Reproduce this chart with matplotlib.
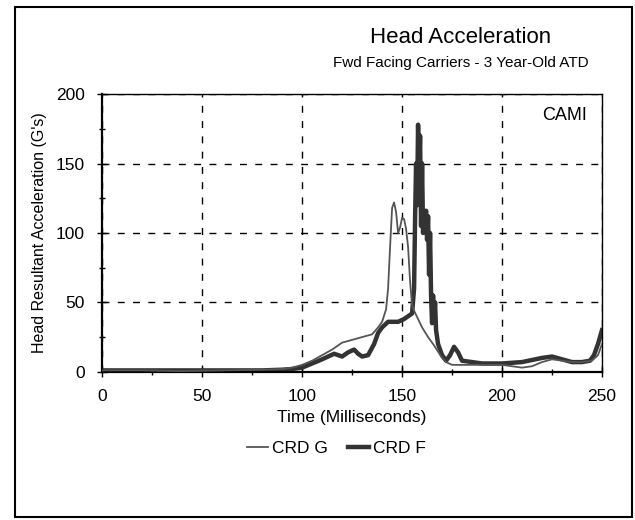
import matplotlib
matplotlib.use("Agg")
import matplotlib.pyplot as plt
from matplotlib.patches import Rectangle
from matplotlib.ticker import MultipleLocator

plt.rcParams['font.family'] = ['Liberation Sans', 'DejaVu Sans']

# CRD G (thin line)
t_g = [0, 20, 40, 60, 80, 90, 95, 100, 105, 110, 115, 120, 125, 130, 135, 138,
       140, 142, 143, 144, 145, 146, 147, 148, 149, 150, 151, 152, 153, 154, 155,
       156, 158, 160, 163, 166, 170, 172, 175, 180, 190, 200, 205, 210, 215, 220,
       225, 230, 235, 240, 245, 248, 250]
g_vals = [1, 1, 0.5, 1, 1.5, 2, 3, 5, 8, 12, 16, 21, 23, 25, 27, 32,
          36, 45, 60, 90, 118, 122, 115, 100, 104, 111, 110, 103, 90, 65, 48,
          44, 38, 32, 25, 19, 10, 7, 5, 5, 5, 5, 4, 3, 4, 7,
          9, 8, 7, 7, 8, 12, 20]

# CRD F (thick line)
t_f = [0, 20, 40, 60, 80, 90, 95, 100, 105, 110, 113, 116, 118, 120, 123, 126,
       128, 130, 133, 136, 138, 140, 143, 146, 148, 151, 153, 155, 156, 156.5,
       157, 157.5, 158, 158.5, 159, 159.5, 160, 160.5, 161, 161.5, 162, 162.5,
       163, 163.5, 164, 164.5, 165, 165.5, 166, 166.5, 167, 168, 170, 172, 174,
       176, 178, 180, 185, 190, 200, 210, 220, 225, 230, 235, 240, 244, 246,
       248, 250]
f_vals = [1, 1, 1, 1, 1, 1.5, 2, 3, 6, 9, 11, 13, 12, 11, 14, 16,
          13, 11, 12, 20, 28, 32, 36, 36, 36, 38, 40, 42, 60, 110,
          150, 120, 178, 140, 170, 105, 150, 100, 115, 108, 116, 95,
          112, 70, 100, 55, 35, 55, 38, 50, 30, 20, 12, 8, 12,
          18, 14, 8, 7, 6, 6, 7, 10, 11, 9, 7, 7, 8, 12,
          20, 30]

x_ticks = [0, 50, 100, 150, 200, 250]
y_ticks = [0, 50, 100, 150, 200]

fig = plt.figure(figsize=(6.35, 5.2), dpi=100)
ax = fig.add_axes([0.161, 0.285, 0.787, 0.534])

ax.plot(t_g, g_vals, color='#555555', lw=1.3, label='CRD G', zorder=3)
ax.plot(t_f, f_vals, color='#333333', lw=3.2, label='CRD F', zorder=2)

ax.set_xlim(0, 250)
ax.set_ylim(0, 200)
ax.set_xticks(x_ticks)
ax.set_yticks(y_ticks)
ax.xaxis.set_minor_locator(MultipleLocator(25))
ax.yaxis.set_minor_locator(MultipleLocator(25))
ax.tick_params(which='both', direction='inout', color='black', labelsize=12.5)
ax.tick_params(which='major', length=7, width=1, pad=9)
ax.tick_params(which='minor', length=5, width=1)
ax.grid(True, which='major', color='black', lw=1, linestyle=(0, (5, 6)))

for side in ['left', 'bottom']:
    ax.spines[side].set_linewidth(1.6)
for side in ['top', 'right']:
    ax.spines[side].set_linewidth(1.0)

ax.set_xlabel('Time (Milliseconds)', fontsize=12.5, labelpad=4)
ax.set_ylabel("Head Resultant Acceleration (G's)", fontsize=11.5, labelpad=6)
ax.text(0.97, 0.955, 'CAMI', transform=ax.transAxes, ha='right', va='top', fontsize=13)

fig.text(0.725, 0.927, 'Head Acceleration', ha='center', va='center', fontsize=16)
fig.text(0.725, 0.878, 'Fwd Facing Carriers - 3 Year-Old ATD', ha='center', va='center', fontsize=11)

fig.legend(loc='center', bbox_to_anchor=(0.53, 0.138), ncol=2, frameon=False,
           fontsize=12.5, handlelength=1.2, handletextpad=0.2, columnspacing=1.2)

fig.patches.append(Rectangle((0.024, 0.006), 0.971, 0.98, transform=fig.transFigure,
                             fill=False, edgecolor='black', lw=1.5))

fig.savefig('out.png', dpi=100)
